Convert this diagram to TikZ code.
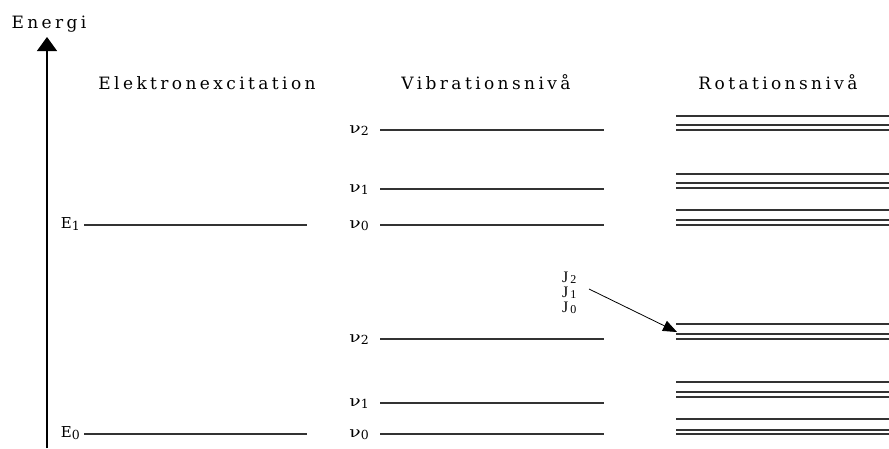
\documentclass[tikz,border=0pt]{standalone}
\usepackage{fontspec}
\setmainfont{DejaVu Serif}
\usetikzlibrary{arrows.meta}
\newfontfamily\widefont[LetterSpace=20]{DejaVu Serif}
\newfontfamily\jfont{Liberation Serif}
\newcommand{\subsc}[1]{\raisebox{-2pt}{\fontsize{12.5}{12}\selectfont #1}}
\newcommand{\jsub}[1]{J\hspace{2pt}\raisebox{-1pt}{\fontsize{12}{12}\selectfont #1}}
\newcommand{\nusym}{\scalebox{1.25}[1]{ν}}
\tikzset{
  level/.style={line width=1.1pt, black!80},
  head/.style={inner sep=0pt, anchor=base, font=\widefont\fontsize{17}{20}\selectfont},
  sym/.style={inner sep=0pt, anchor=base east, font=\fontsize{15}{18}\selectfont},
  jsym/.style={inner sep=0pt, anchor=north west, align=left, font=\jfont\fontsize{16}{15}\selectfont},
}
\begin{document}
\begin{tikzpicture}[x=1pt,y=-1pt]
\useasboundingbox (0,0) rectangle (889,448);
% axis
\node[head] (energi) at (49,28) {Energi};
\coordinate (axbot) at (47,448);
\coordinate (axtop) at (47,37);
\draw[line width=1.3pt, -{Triangle[width=20pt,length=14pt]}] (axbot) -- (axtop);
% headings
\node[head] (h1) at (207,89) {Elektronexcitation};
\node[head] (h2) at (486,89) {Vibrationsnivå};
\node[head] (h3) at (778,89) {Rotationsnivå};
% electronic levels
\node[sym] (E1) at (80,228) {E\subsc{1}};
\node[sym] (E0) at (80,437) {E\subsc{0}};
\draw[level] (84,225) -- (307,225);
\draw[level] (84,434) -- (307,434);
% vibrational levels
\foreach \y/\n/\nm in {130/2/a, 189/1/b, 225/0/c, 339/2/d, 403/1/e, 434/0/f}{
  \node[sym] (nu\nm) at (369,\y+3) {\nusym\subsc{\n}};
  \draw[level] (380,\y) -- (604,\y);
}
% rotational levels
\foreach \y in {116,125,130,174,183,188,210,220,225,324,334,339,382,392,397,419,430,434}{
  \draw[level] (676,\y) -- (889,\y);
}
% J labels
\node[jsym] (J) at (562,272) {\jsub{2}\\\jsub{1}\\\jsub{0}};
\coordinate (jstart) at (589,289);
\coordinate (jend) at (677,332);
\draw[line width=0.8pt, -{Triangle[width=11pt,length=14pt]}] (jstart) -- (jend);
\end{tikzpicture}
\end{document}
